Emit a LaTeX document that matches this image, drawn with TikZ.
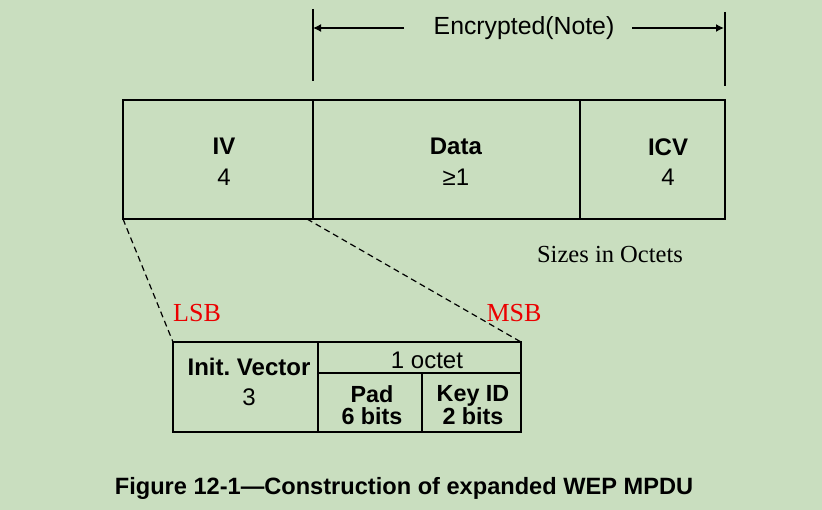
\documentclass[tikz,border=0pt]{standalone}
\usepackage{fontspec}
\setmainfont{Liberation Sans}
\newfontfamily\timesfont{Liberation Serif}
\usetikzlibrary{arrows.meta}
\definecolor{bgGreen}{RGB}{201,222,191}
\definecolor{bitRed}{RGB}{235,0,0}
\frenchspacing
\begin{document}
\begin{tikzpicture}[x=0.75pt,y=-0.75pt,
  field/.style={draw,line width=1.5pt,anchor=north west,inner sep=0pt,outer sep=0pt},
  fieldtext/.style={align=center,inner sep=0pt,font=\fontsize{18}{23}\selectfont},
  subtext/.style={align=center,inner sep=0pt,font=\fontsize{17.5}{17}\selectfont\bfseries},
  tick/.style={line width=1.5pt},
  span/.style={-{Latex[length=6pt,width=6pt]},line width=1.1pt},
  zoomline/.style={dashed,dash pattern=on 4.5pt off 3pt,line width=0.9pt},
  note/.style={font=\timesfont\fontsize{18.4}{18}\selectfont},
  bitnote/.style={text=bitRed,font=\timesfont\fontsize{19.5}{19}\selectfont}]
  \fill[bgGreen] (0,0) rectangle (822,510);

  \node[field,minimum width=142.5pt, minimum height=89.25pt] (iv)   at (123,100)       {};
  \node[field,minimum width=200.25pt,minimum height=89.25pt] (data) at (iv.north east)   {};
  \node[field,minimum width=108.75pt,minimum height=89.25pt] (icv)  at (data.north east) {};
  \node[fieldtext] (ivText)   at (224,162) {\textbf{IV}\\4};
  \node[fieldtext] (dataText) at (456,162) {\textbf{Data}\\≥1};
  \node[fieldtext] (icvText)  at (668,162) {\textbf{ICV}\\4};

  \draw[tick] (313,9) -- (313,81);
  \draw[tick] (725,12) -- (725,86);
  \node[font=\fontsize{18.6}{18}\selectfont] (enc) at (524,28) {Encrypted(Note)};
  \coordinate (encLeft)  at (313,28);
  \coordinate (encRight) at (724,28);
  \coordinate (encA) at (404,28);
  \coordinate (encB) at (632,28);
  \draw[span] (encA) -- (encLeft);
  \draw[span] (encB) -- (encRight);

  \node[note] (sizes) at (610,254) {Sizes in Octets};

  \node[field,minimum width=108.75pt,minimum height=67.5pt] (initv) at (173,342) {};
  \node[field,minimum width=152.25pt,minimum height=23.25pt] (octet) at (initv.north east) {};
  \node[field,minimum width=78pt,minimum height=44.25pt] (pad)   at (octet.south west) {};
  \node[field,minimum width=74.25pt,minimum height=44.25pt] (keyid) at (pad.north east) {};
  \node[fieldtext] (initvText) at (249,382) {\textbf{Init. Vector}\\3};
  \node[fieldtext] (octetText) at (427,360) {1 octet};
  \node[subtext]   (padText)   at (372,405) {Pad\\6 bits};
  \node[subtext]   (keyidText) at (473,405) {Key ID\\2 bits};

  \draw[zoomline] (iv.south west) -- (initv.north west);
  \draw[zoomline] ([xshift=-4.5pt]iv.south east) -- (octet.north east);

  \node[bitnote] (lsb) at (197,313) {LSB};
  \node[bitnote] (msb) at (514,313) {MSB};

  \node[font=\fontsize{17.7}{18}\selectfont\bfseries] (caption) at (404,488) {Figure 12-1—Construction of expanded WEP MPDU};
\end{tikzpicture}
\end{document}
